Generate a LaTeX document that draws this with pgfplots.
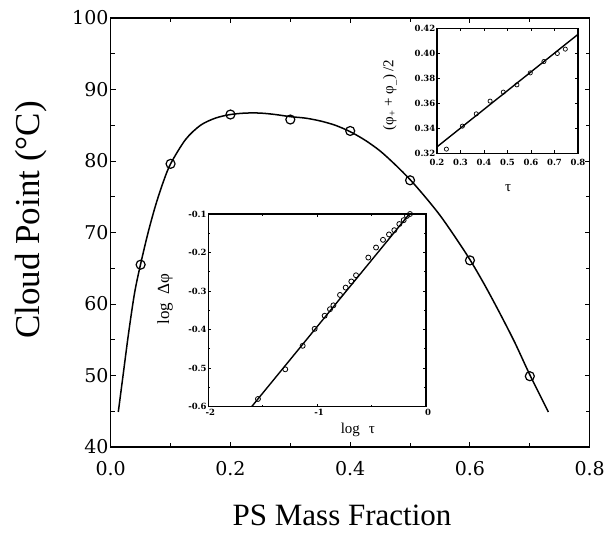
\documentclass[border=0pt]{standalone}
\usepackage{fontspec}
\setmainfont{Liberation Serif}
\newfontfamily\tickfont{DejaVu Serif}
\usepackage{pgfplots}
\pgfplotsset{compat=1.18}

\pgfplotsset{
  frame/.style={
    scale only axis, at={(0,0)}, anchor=south west,
    tick align=inside, tick pos=both,
    every tick/.style={black, line width=0.9pt},
    /pgf/number format/assume math mode=true,
  },
  small inset/.style={
    frame,
    axis line style={line width=1.2pt},
    axis background/.style={fill=white},
    major tick length=3pt, minor tick length=2pt,
    ticklabel style={font=\tickfont\bfseries\fontsize{8.5}{8.5}\selectfont, inner sep=1.5pt},
    label style={font=\fontsize{15}{15}\selectfont, inner sep=0pt},
  },
}

\begin{document}
\begin{tikzpicture}
\useasboundingbox (-110.7pt,-88pt) rectangle (500.3pt,447pt);

% main chart
\begin{axis}[
  frame,
  width=479pt, height=429pt,
  xmin=0, xmax=0.8, ymin=40, ymax=100,
  xtick={0,0.2,0.4,0.6,0.8}, xticklabels={0.0,0.2,0.4,0.6,0.8},
  minor xtick={0.1,0.3,0.5,0.7},
  ytick={40,50,60,70,80,90,100},
  minor ytick={45,55,65,75,85,95},
  major tick length=5pt, minor tick length=4pt,
  axis line style={line width=1.6pt},
  ticklabel style={font=\tickfont\fontsize{19}{19}\selectfont},
  yticklabel style={inner sep=2pt},
  xticklabel style={inner sep=2pt, yshift=-12pt},
  xlabel={PS Mass Fraction},
  ylabel={Cloud Point (°C)},
  xlabel style={font=\fontsize{31}{31}\selectfont, at={(axis description cs:0.483,-0.135)}, anchor=north, inner sep=0pt},
  ylabel style={font=\fontsize{35}{35}\selectfont, at={(axis description cs:-0.167,0.529)}, anchor=center, inner sep=0pt},
]
\addplot[black, line width=1.5pt, smooth, tension=0.5] coordinates {
  (0.0127,44.9) (0.02,49.6) (0.03,56.0) (0.04,61.6) (0.05,65.6) (0.0625,70.0)
  (0.075,73.8) (0.0875,77.0) (0.1,79.6) (0.125,83.0) (0.15,85.0) (0.175,86.0)
  (0.2,86.5) (0.225,86.7) (0.25,86.7) (0.275,86.5) (0.3,86.2) (0.325,86.0)
  (0.35,85.6) (0.375,85.0) (0.4,84.1) (0.425,82.9) (0.45,81.4) (0.475,79.5)
  (0.5,77.4) (0.525,75.0) (0.55,72.4) (0.575,69.4) (0.6,66.2) (0.625,62.6)
  (0.65,58.7) (0.675,54.6) (0.7,50.1) (0.731,44.9)
};
\addplot[only marks, mark=o, mark size=4.5pt, mark options={line width=1.2pt, black}] coordinates {
  (0.05,65.5) (0.1,79.6) (0.2,86.5) (0.3,85.8) (0.4,84.2) (0.5,77.3) (0.6,66.1) (0.7,49.9)
};
\end{axis}

% top right inset
\begin{axis}[
  small inset,
  at={(326.3pt,293.5pt)},
  width=141pt, height=125pt,
  xmin=0.2, xmax=0.8, ymin=0.32, ymax=0.42,
  xtick={0.2,0.3,0.4,0.5,0.6,0.7,0.8}, xticklabels={0.2,0.3,0.4,0.5,0.6,0.7,0.8},
  ytick={0.32,0.34,0.36,0.38,0.40,0.42}, yticklabels={0.32,0.34,0.36,0.38,0.40,0.42},
  xticklabel style={yshift=-4pt},
  xlabel={τ},
  ylabel={(φ\textsubscript{+} + φ\textsubscript{\_}) /2},
  xlabel style={at={(axis description cs:0.504,-0.28)}, anchor=center},
  ylabel style={at={(axis description cs:-0.333,0.468)}, anchor=center},
]
\addplot[black, line width=1.4pt] coordinates {(0.2,0.3253) (0.8,0.4153)};
\addplot[only marks, mark=o, mark size=2.1pt, mark options={line width=0.7pt, black}] coordinates {
  (0.240,0.3235) (0.308,0.3419) (0.367,0.3517) (0.426,0.3619) (0.482,0.3691)
  (0.540,0.3749) (0.597,0.3845) (0.655,0.3936) (0.712,0.4000) (0.746,0.4035)
};
\end{axis}

% centre inset
\begin{axis}[
  small inset,
  at={(97.6pt,40.3pt)},
  width=217.7pt, height=192.7pt,
  xmin=-2, xmax=0, ymin=-0.6, ymax=-0.1,
  xtick={-2,-1,0}, xticklabels={-2,-1,0},
  minor xtick={-1.5,-0.5},
  ytick={-0.6,-0.5,-0.4,-0.3,-0.2,-0.1}, yticklabels={-0.6,-0.5,-0.4,-0.3,-0.2,-0.1},
  minor ytick={-0.55,-0.45,-0.35,-0.25,-0.15},
  xticklabel style={inner sep=1pt, yshift=-1.5pt, xshift=2pt},
  xlabel={log\hspace{0.6em}τ},
  ylabel={log\hspace{0.5em}Δφ},
  xlabel style={at={(axis description cs:0.687,-0.121)}, anchor=center},
  ylabel style={font=\fontsize{17}{17}\selectfont, at={(axis description cs:-0.199,0.56)}, anchor=center},
]
\addplot[black, line width=1.4pt] coordinates {(-1.602,-0.6) (-0.15,-0.099)};
\addplot[only marks, mark=o, mark size=2.5pt, mark options={line width=0.8pt, black}] coordinates {
  (-1.544,-0.580) (-1.293,-0.503) (-1.133,-0.442) (-1.023,-0.398) (-0.931,-0.364)
  (-0.882,-0.347) (-0.851,-0.337) (-0.790,-0.310) (-0.738,-0.291) (-0.686,-0.275)
  (-0.643,-0.259) (-0.530,-0.213) (-0.459,-0.187) (-0.395,-0.167) (-0.340,-0.153)
  (-0.291,-0.142) (-0.245,-0.126) (-0.205,-0.116) (-0.175,-0.105) (-0.147,-0.100)
};
\end{axis}
\end{tikzpicture}
\end{document}
